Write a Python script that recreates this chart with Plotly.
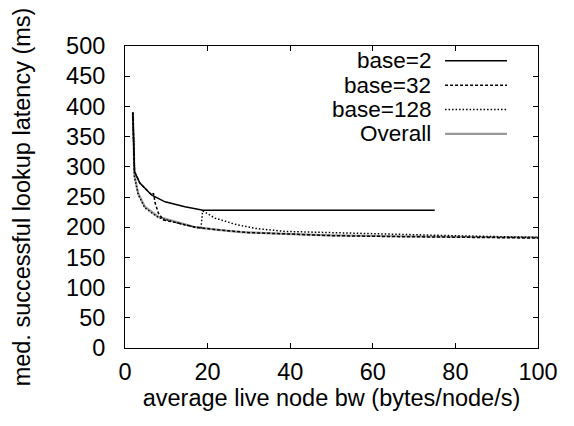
import plotly.graph_objects as go

# ---- data ----
base2_x = [1.9, 2.3, 3.6, 6.5, 9.7, 14.5, 18.9, 75]
base2_y = [390, 292, 273, 253, 242, 234, 228, 228]

base32_x = [1.9, 2.3, 3.6, 6.5, 6.9, 7.3, 8.1, 9.3, 12.1, 17, 22, 30, 38.7, 50, 65, 80, 100]
base32_y = [390, 292, 273, 253, 256, 240, 223, 212, 208, 200, 196, 191, 189, 186, 184.5, 183.5, 182]

base128_x = [1.9, 2.3, 3.2, 4.8, 8.1, 12.1, 17, 18.4, 18.8, 21.8, 26.6, 31.5, 38.7, 54, 79, 100]
base128_y = [390, 283, 254, 232, 216, 208, 200, 199, 227, 215, 205, 198, 193, 190, 186, 183]

overall_x = [1.9, 2.3, 3.2, 4.8, 8.1, 12.1, 17, 22, 28, 38.7, 50, 65, 80, 100]
overall_y = [390, 285, 256, 234, 217, 209, 200, 196, 192, 189, 186.5, 185, 184, 183]

series_names = ["base=2", "base=32", "base=128", "Overall"]
x_ticks = [0, 20, 40, 60, 80, 100]
y_ticks = [0, 50, 100, 150, 200, 250, 300, 350, 400, 450, 500]

# ---- styles ----
styles = [
    dict(color="black", width=1.5, dash="solid"),
    dict(color="black", width=1.5, dash="3px,2px"),
    dict(color="black", width=1.5, dash="1.5px,2px"),
    dict(color="#999999", width=2.2, dash="solid"),
]

FONT = "Liberation Sans, Arial, sans-serif"
FS = 23.5
LEG_FS = 22.5

fig = go.Figure()
data = [(base2_x, base2_y), (base32_x, base32_y), (base128_x, base128_y), (overall_x, overall_y)]
order = [3, 2, 1, 0]  # draw overall first (underneath)
for i in order:
    xs, ys = data[i]
    fig.add_trace(go.Scatter(x=xs, y=ys, mode="lines", name=series_names[i],
                             line=styles[i], showlegend=False))

# ---- gnuplot-style legend (text right-aligned, sample on the right) ----
rows_y = [0.951, 0.870, 0.790, 0.709]
for i, name in enumerate(series_names):
    fig.add_annotation(x=0.743, y=rows_y[i], xref="paper", yref="paper",
                       text=name, showarrow=False, xanchor="right", yanchor="middle",
                       borderpad=0,
                       font=dict(family=FONT, size=LEG_FS, color="black"))
    fig.add_shape(type="line", xref="paper", yref="paper",
                  x0=0.775, x1=0.925, y0=rows_y[i], y1=rows_y[i],
                  line=styles[i])

axis_common = dict(
    showgrid=False, zeroline=False, showline=True, linecolor="black", linewidth=1,
    mirror="ticks", ticks="inside", ticklen=5, tickwidth=1, tickcolor="black",
    tickfont=dict(family=FONT, size=FS, color="black"),
)

fig.update_xaxes(range=[0, 100], tickvals=x_ticks, ticktext=[str(v) for v in x_ticks],
                 title=dict(text="average live node bw (bytes/node/s)",
                            font=dict(family=FONT, size=FS, color="black"), standoff=2),
                 ticklabelstandoff=3, **axis_common)
fig.update_yaxes(range=[0, 500], tickvals=y_ticks, ticktext=[str(v) for v in y_ticks],
                 title=dict(text="med. successful lookup latency (ms)",
                            font=dict(family=FONT, size=FS, color="black"), standoff=28),
                 ticklabelstandoff=14, **axis_common)

fig.update_layout(
    width=574, height=426,
    margin=dict(l=117, r=44, t=38, b=86),
    paper_bgcolor="white", plot_bgcolor="white",
    font=dict(family=FONT, size=FS, color="black"),
)

fig.write_html("out.html")
